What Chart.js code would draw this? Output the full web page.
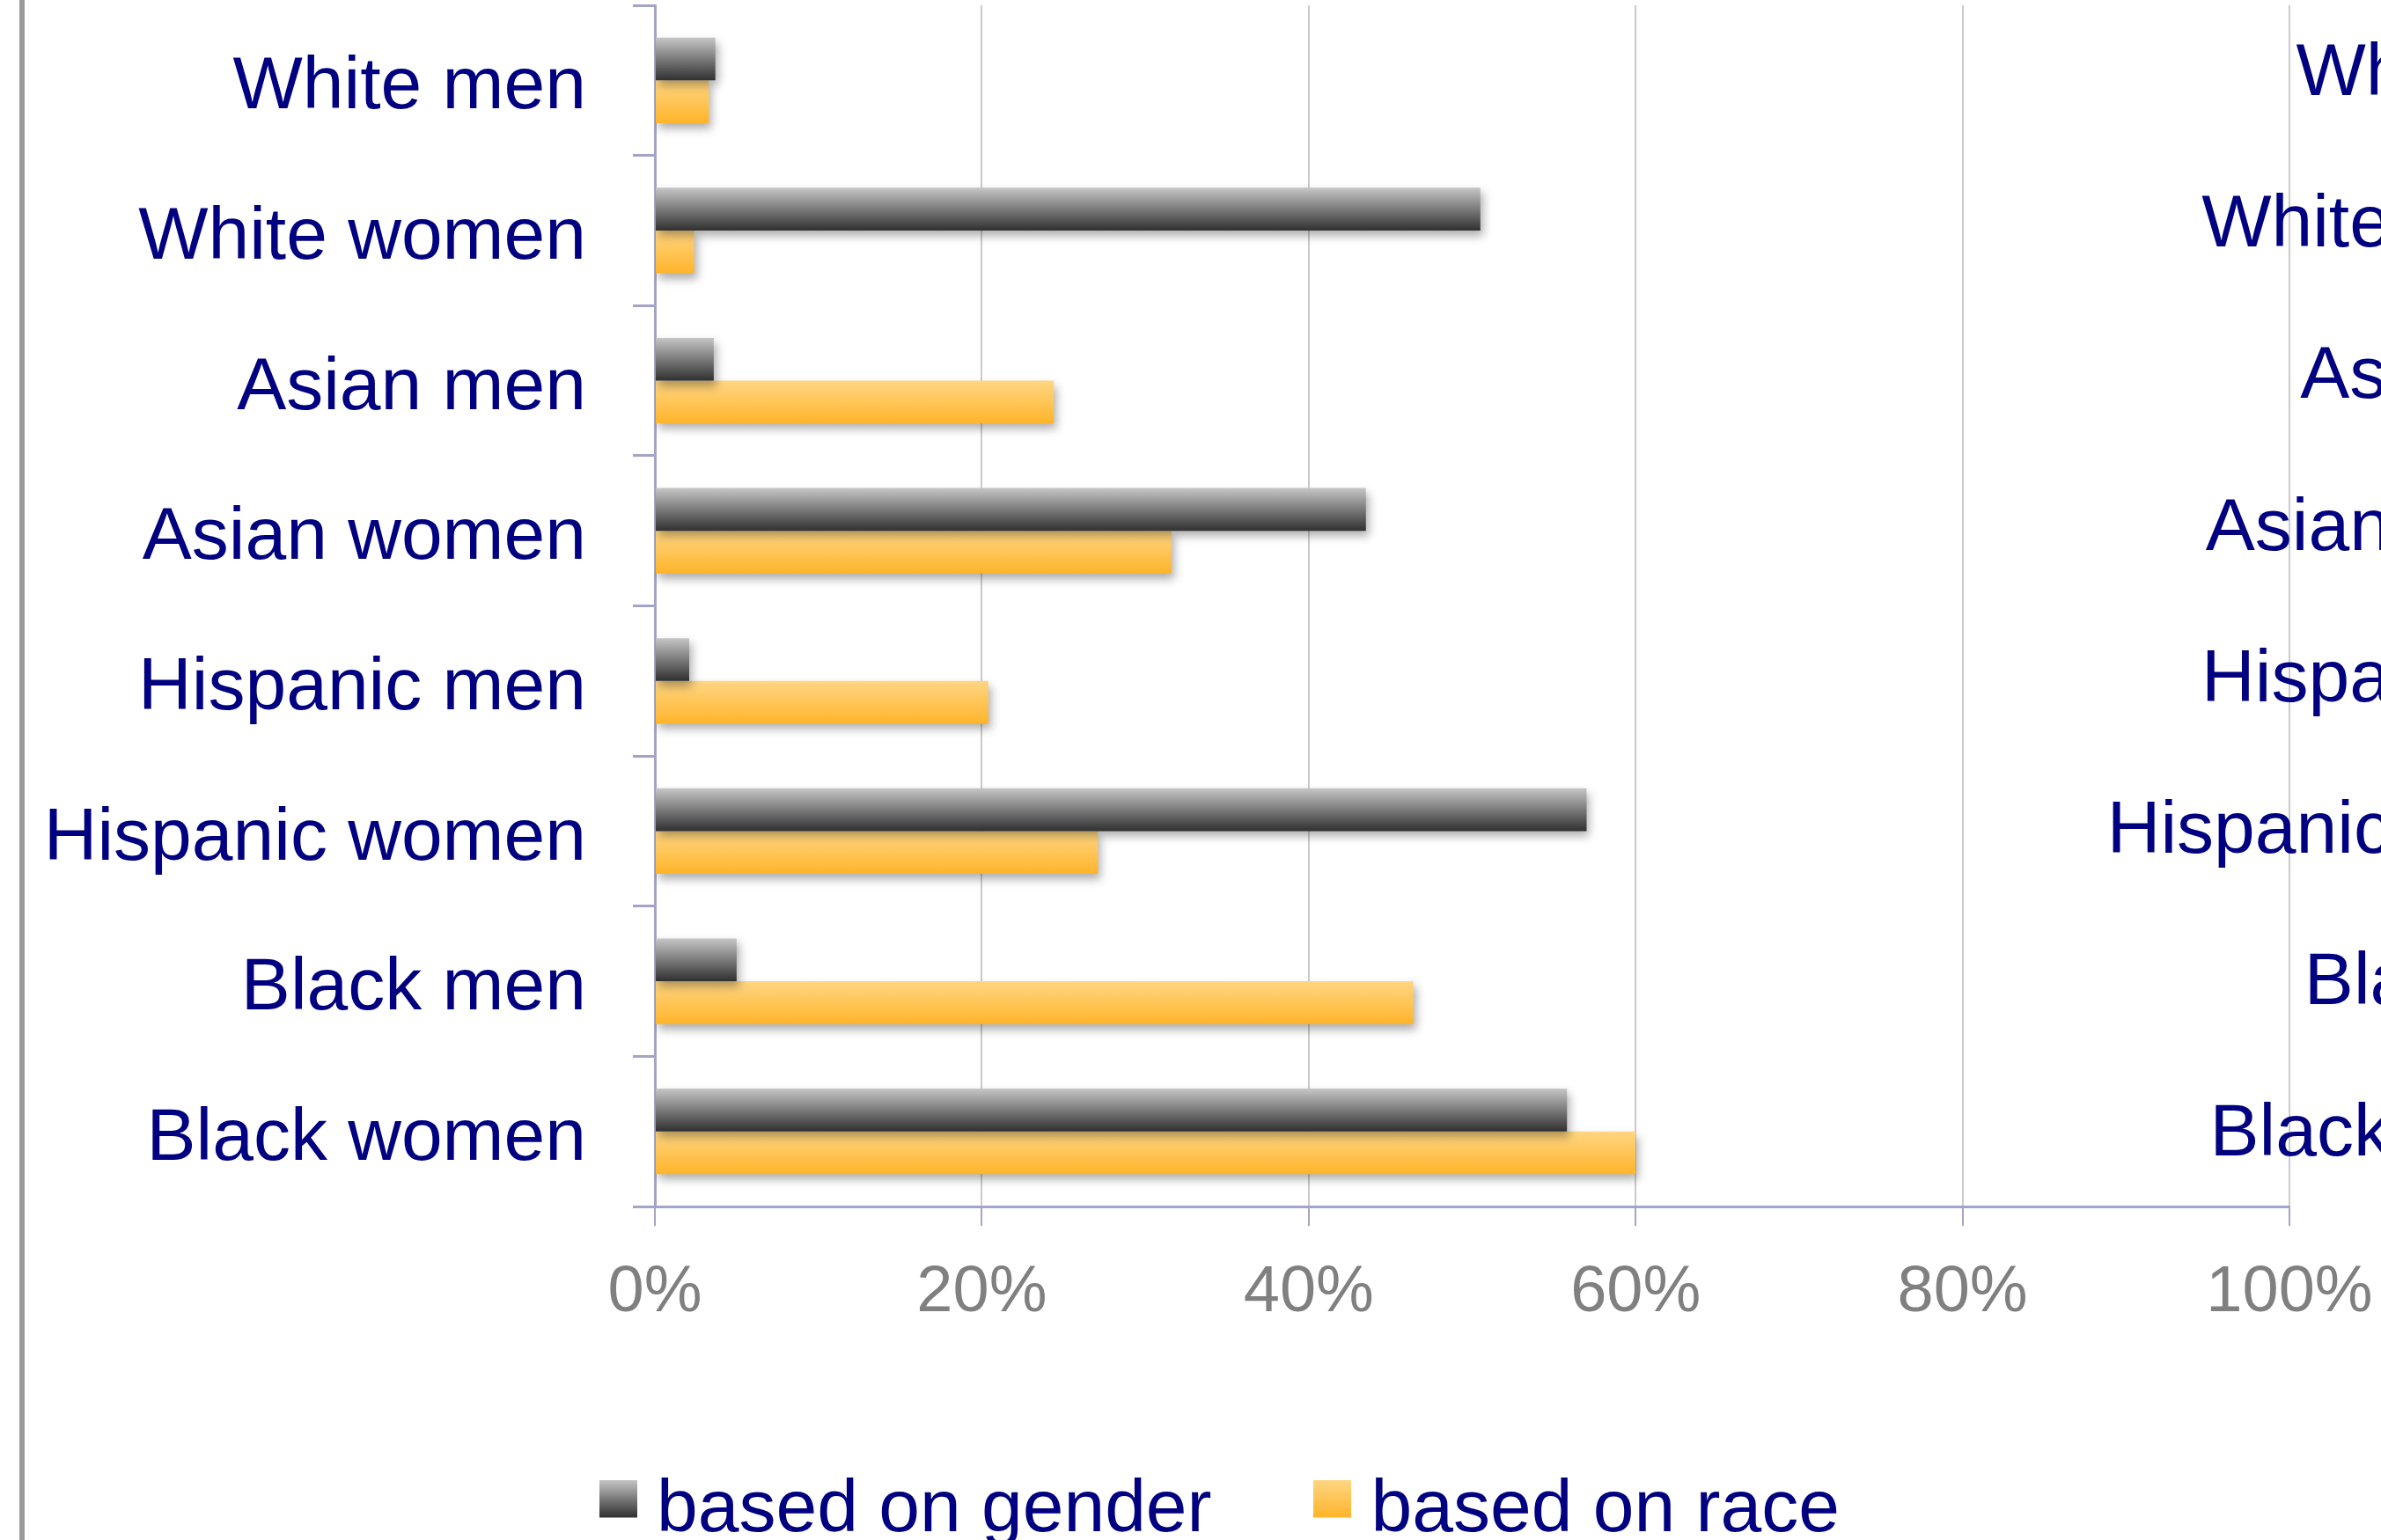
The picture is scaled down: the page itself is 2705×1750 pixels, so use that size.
<!DOCTYPE html>
<html>
<head>
<meta charset="utf-8">
<script src="https://cdn.jsdelivr.net/npm/chart.js@4.4.1/dist/chart.umd.min.js"></script>
<style>
html, body { margin:0; padding:0; width:2705px; height:1750px; overflow:hidden; background:#ffffff; }
#slide-rule { position:absolute; left:22px; top:0; width:6px; height:1750px; background:#9a9a9a; }
canvas { position:absolute; }
#chart-main { left:0; top:0; }
#chart-copy { left:2344px; top:-16px; }
</style>
</head>
<body>
<div id="slide-rule"></div>
<canvas id="chart-main" width="2705" height="1769"></canvas>
<canvas id="chart-copy" width="2705" height="1769"></canvas>
<script>
const categories = ["White men", "White women", "Asian men", "Asian women", "Hispanic men", "Hispanic women", "Black men", "Black women"];
const seriesNames = ["based on gender", "based on race"];
const genderValues = [3.7, 50.5, 3.6, 43.5, 2.1, 57.0, 5.0, 55.8];
const raceValues = [3.3, 2.4, 24.4, 31.6, 20.4, 27.1, 46.4, 60.0];
const tickValues = [0, 20, 40, 60, 80, 100];

const CAT_PCT = 0.57;
const PAD_LEFT = 20;
const PAD_RIGHT = 104;
const AXIS_X = 744;
const LEGEND_X = 700;
const navy = "#000080";
const lavender = "#a4a4c6";
const gradients = [["#c6c6c6", "#303030"], ["#ffd683", "#ffb42a"]];

Chart.defaults.font.family = '"Liberation Sans", Arial, sans-serif';

// each bar gets its own top->bottom gradient, worked out from the category band
let barFill = (stops, slot)=>((context)=>{
    let chart = context.chart;
    if(!chart.chartArea || context.type !== "data") return stops[1];
    let yScale = chart.scales.y;
    let center = yScale.getPixelForValue(context.dataIndex);
    let barH = (yScale.height / categories.length) * CAT_PCT / 2;
    let top = (slot === 0) ? center - barH : center;
    let g = chart.ctx.createLinearGradient(0, top, 0, top + barH);
    g.addColorStop(0, stops[0]);
    g.addColorStop(1, stops[1]);
    return g;
});

// legend swatch, with empty rows below so the square sits a bit above the text middle
let swatch = (stops)=>{
    let c = document.createElement("canvas");
    c.width = 43; c.height = 71;
    let cx = c.getContext("2d");
    let g = cx.createLinearGradient(0, 0, 0, 43);
    g.addColorStop(0, stops[0]);
    g.addColorStop(1, stops[1]);
    cx.fillStyle = g;
    cx.fillRect(0, 0, 43, 43);
    return c;
};
const swatches = gradients.map(swatch);

const barShadow = {
    id: "barShadow",
    beforeDatasetsDraw(chart){
        let c = chart.ctx;
        c.save();
        c.shadowColor = "rgba(0,0,0,0.32)";
        c.shadowBlur = 10;
        c.shadowOffsetX = 3;
        c.shadowOffsetY = 6;
    },
    afterDatasetsDraw(chart){
        chart.ctx.restore();
    }
};

// the legend row is not centred under the plot in the original, slide it over
const legendShift = {
    id: "legendShift",
    afterLayout(chart){
        let lg = chart.legend;
        if(!lg || !lg.lineWidths) return;
        let pad = lg.options.labels.padding;
        let start = (lg.left + pad + lg.right - lg.lineWidths[0]) / 2;
        let d = LEGEND_X - start;
        lg.left += d;
        lg.right += d;
    }
};

let makeChart = (canvasId, xAxisHeight)=>new Chart(document.getElementById(canvasId), {
    type: "bar",
    data: {
        labels: categories,
        datasets: [
            {label: seriesNames[0], data: genderValues, backgroundColor: barFill(gradients[0], 0)},
            {label: seriesNames[1], data: raceValues, backgroundColor: barFill(gradients[1], 1)},
        ].map(ds=>Object.assign(ds, {borderWidth: 0, barPercentage: 1, categoryPercentage: CAT_PCT})),
    },
    plugins: [barShadow, legendShift],
    options: {
        indexAxis: "y",
        responsive: false,
        devicePixelRatio: 1,
        animation: false,
        layout: {padding: {left: PAD_LEFT, right: PAD_RIGHT, top: 6, bottom: 0}},
        scales: {
            x: {
                type: "linear",
                min: tickValues[0],
                max: tickValues[tickValues.length - 1],
                afterBuildTicks: (scale)=>{ scale.ticks = tickValues.map(v=>({value: v})); },
                afterFit: (scale)=>{
                    scale.height = xAxisHeight;
                    scale.paddingLeft = 0;
                    scale.paddingRight = 0;
                },
                ticks: {
                    color: "#808080",
                    font: {size: 74},
                    padding: 32,
                    callback: (v)=>v + "%",
                },
                grid: {color: "#cbcbcb", lineWidth: 2, tickLength: 22, tickColor: lavender},
                border: {color: lavender, width: 3},
            },
            y: {
                type: "category",
                afterFit: (scale)=>{
                    scale.width = AXIS_X - PAD_LEFT;
                    scale.paddingTop = 0;
                    scale.paddingBottom = 0;
                },
                ticks: {color: navy, font: {size: 84}, padding: 53, labelOffset: 9},
                grid: {drawOnChartArea: false, tickLength: 25, tickColor: lavender, lineWidth: 3},
                border: {color: lavender, width: 3},
            },
        },
        plugins: {
            tooltip: {enabled: false},
            legend: {
                position: "bottom",
                labels: {
                    usePointStyle: true,
                    pointStyleWidth: 4,
                    padding: 135,
                    color: navy,
                    font: {size: 84},
                    generateLabels: (chart)=>chart.data.datasets.map((ds, i)=>({
                        text: ds.label,
                        pointStyle: swatches[i],
                        fontColor: navy,
                        lineWidth: 0,
                        strokeStyle: "transparent",
                        hidden: false,
                        datasetIndex: i,
                    })),
                },
            },
        },
    },
});

makeChart("chart-main", 169);
makeChart("chart-copy", 157);
</script>
</body>
</html>
